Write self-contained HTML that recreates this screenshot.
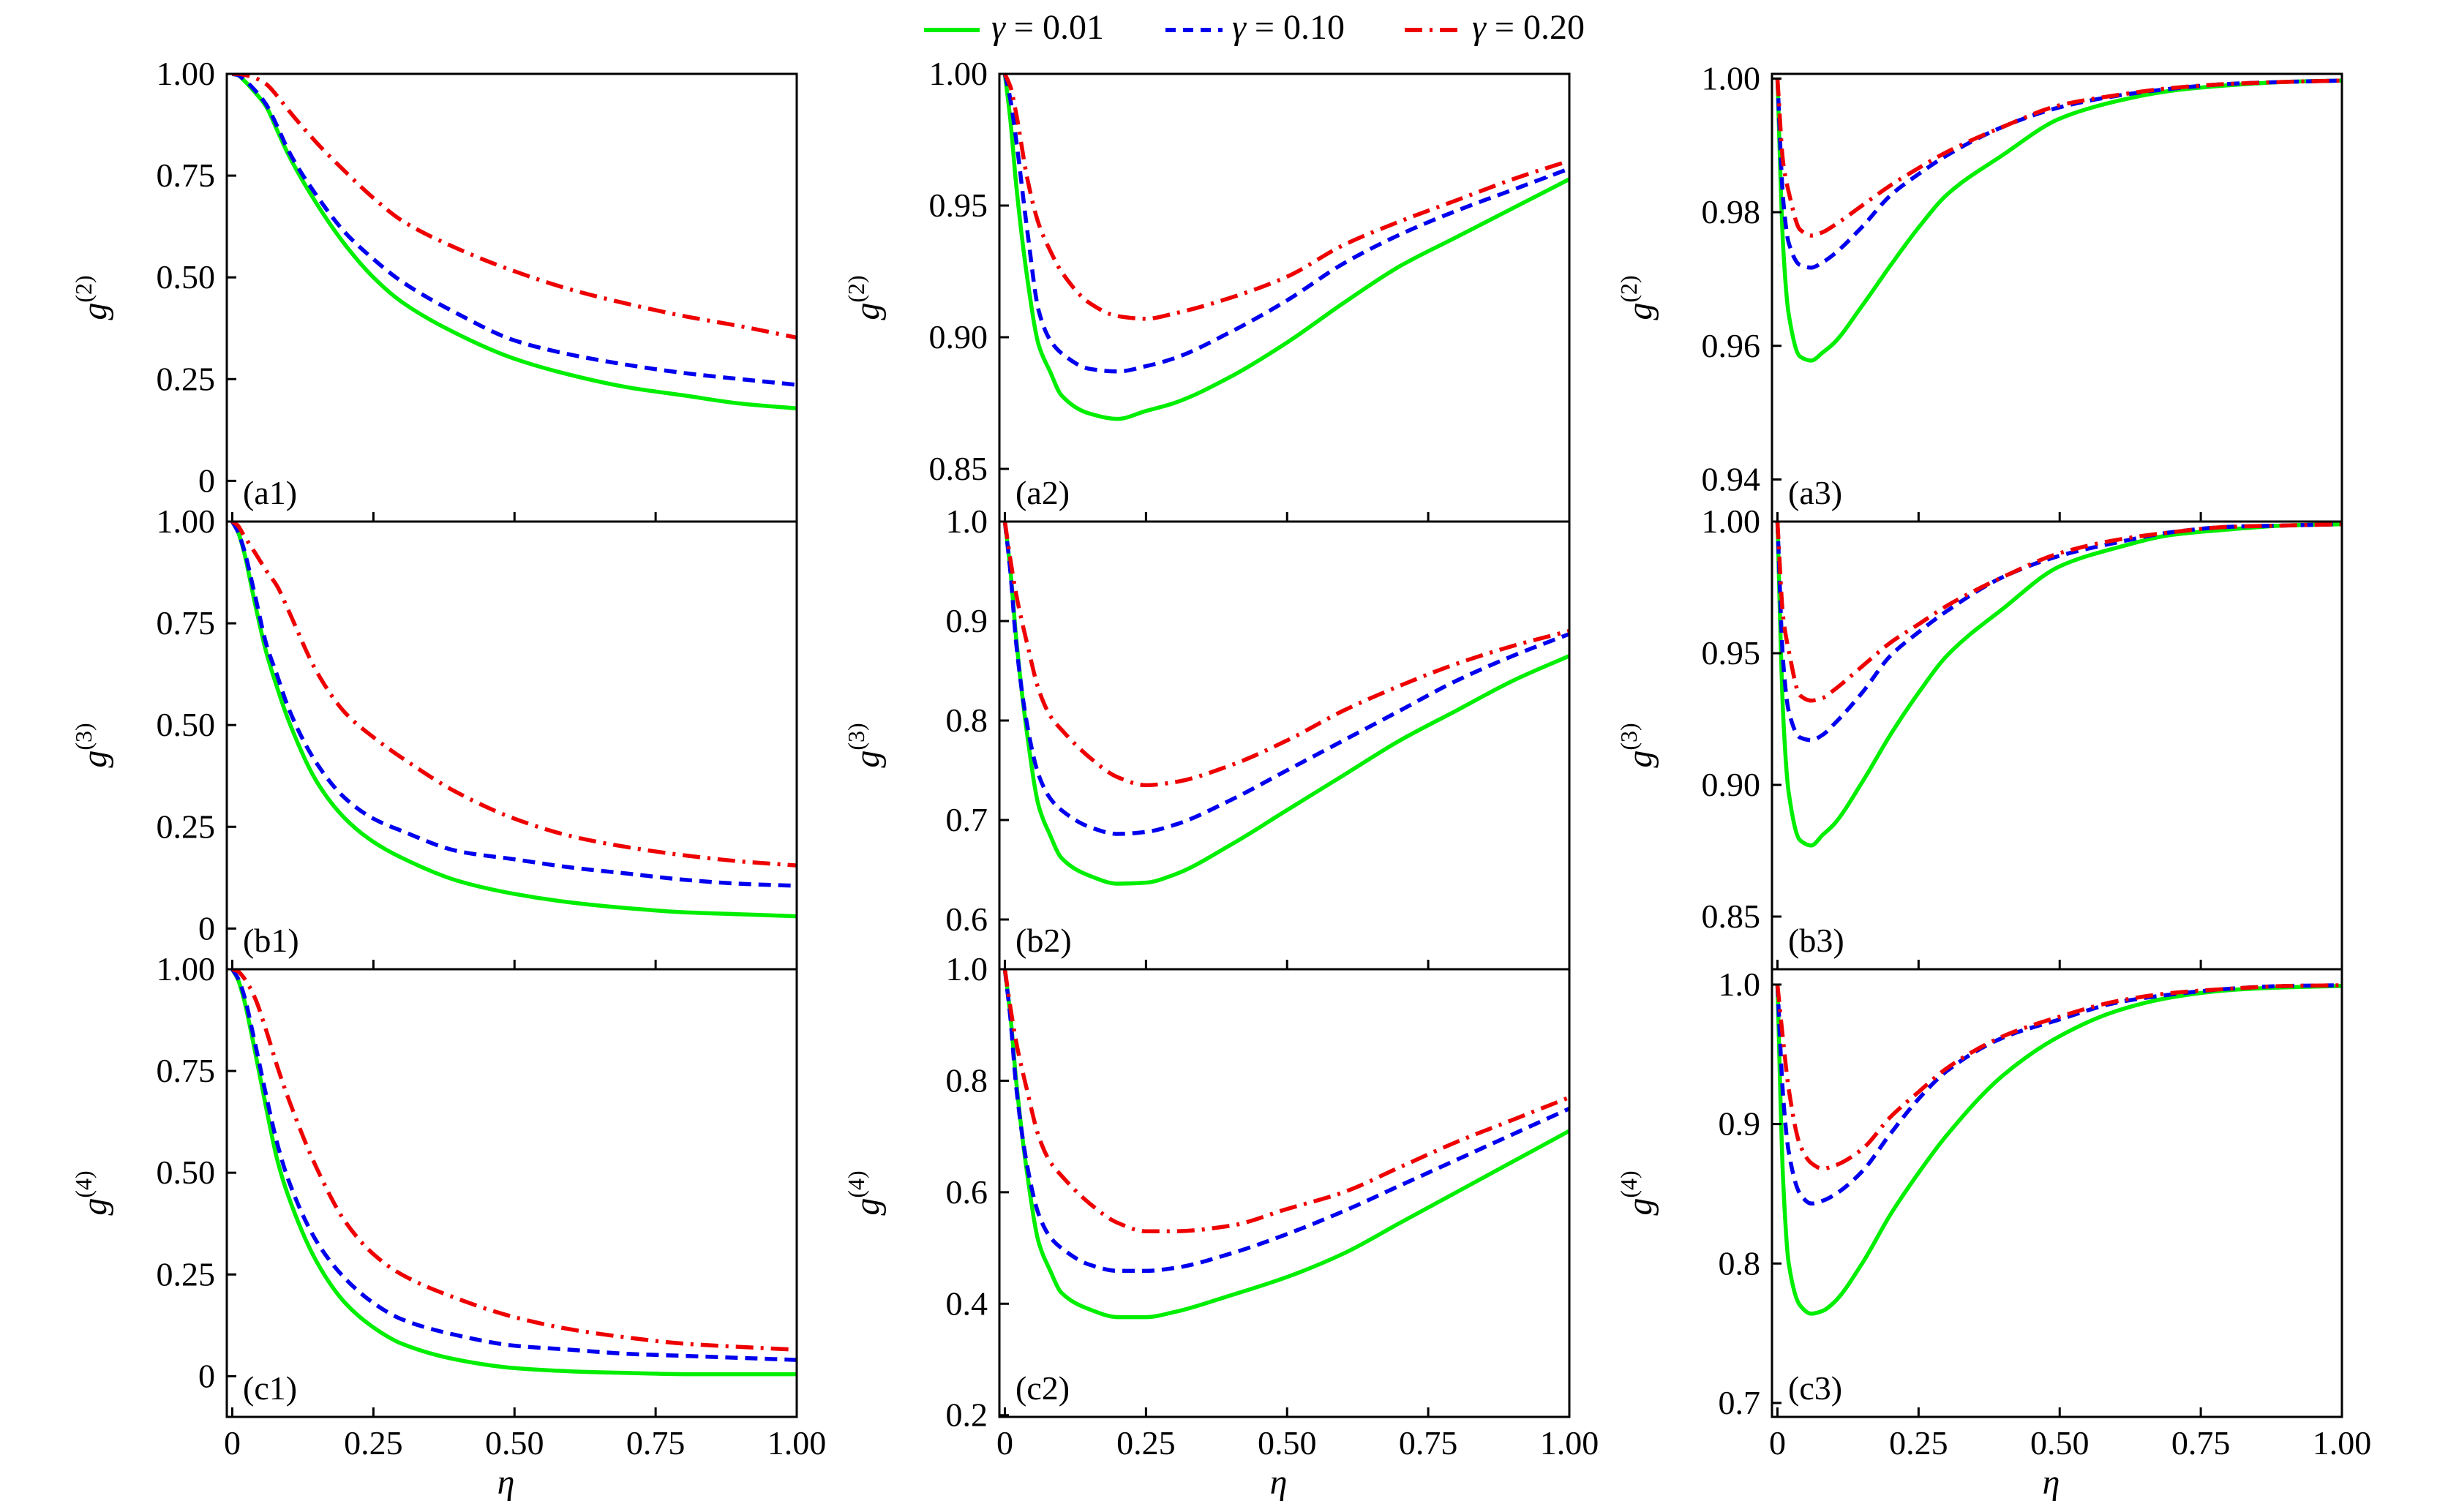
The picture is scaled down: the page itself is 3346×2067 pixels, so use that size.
<!DOCTYPE html>
<html><head><meta charset="utf-8">
<style>
html,body{margin:0;padding:0;background:#fff;}
svg{display:block;}
text{font-family:"Liberation Serif","DejaVu Serif",serif;fill:#000;}
</style></head>
<body>
<svg id="chart" xmlns="http://www.w3.org/2000/svg" width="3346" height="2067" viewBox="0 0 3346 2067" font-family="'Liberation Serif', 'DejaVu Serif', serif">
<rect x="0" y="0" width="3346" height="2067" fill="#fff"/>
<g id="legend">
  <g>
    <line x1="1263" y1="41" x2="1339" y2="41" stroke="#00ee00" stroke-width="6"/>
    <text x="1355" y="53" font-size="48"><tspan font-style="italic">γ</tspan> = 0.01</text>
  </g>
  <g>
    <line x1="1593" y1="41" x2="1671" y2="41" stroke="#0000ee" stroke-width="6" stroke-dasharray="14 10"/>
    <text x="1684" y="53" font-size="48"><tspan font-style="italic">γ</tspan> = 0.10</text>
  </g>
  <g>
    <line x1="1920" y1="41" x2="1999" y2="41" stroke="#ee0000" stroke-width="6" stroke-dasharray="24 10 4 10"/>
    <text x="2012" y="53" font-size="48"><tspan font-style="italic">γ</tspan> = 0.20</text>
  </g>
</g>
<g id="panels"></g>
</svg>
<script>
const etas = [0,0.01,0.02,0.04,0.06,0.08,0.1,0.15,0.2,0.25,0.3,0.4,0.5,0.6,0.7,0.8,0.9,1.0];
const xTicks = [0,0.25,0.5,0.75,1.0];
const xTickLabels = ["0","0.25","0.50","0.75","1.00"];
const gammaLabels = ["0.01","0.10","0.20"];

const a1Green = [1,0.997,0.985,0.955,0.92,0.86,0.80,0.68,0.58,0.50,0.44,0.36,0.30,0.26,0.23,0.21,0.19,0.178];
const a1Blue  = [1,0.997,0.987,0.96,0.925,0.87,0.81,0.70,0.61,0.545,0.49,0.41,0.345,0.31,0.285,0.265,0.25,0.236];
const a1Red   = [1,1,0.998,0.99,0.975,0.945,0.91,0.83,0.76,0.695,0.64,0.57,0.515,0.47,0.435,0.405,0.38,0.352];
const b1Green = [1,0.975,0.93,0.80,0.68,0.59,0.51,0.36,0.27,0.213,0.174,0.117,0.085,0.064,0.05,0.04,0.035,0.03];
const b1Blue  = [1,0.975,0.935,0.82,0.70,0.62,0.54,0.405,0.32,0.27,0.24,0.19,0.17,0.15,0.135,0.12,0.11,0.105];
const b1Red   = [1,0.99,0.967,0.924,0.88,0.84,0.78,0.63,0.53,0.47,0.42,0.333,0.27,0.227,0.2,0.18,0.165,0.155];
const c1Green = [1,0.975,0.93,0.80,0.66,0.53,0.44,0.28,0.18,0.12,0.08,0.04,0.02,0.012,0.008,0.005,0.005,0.005];
const c1Blue  = [1,0.978,0.94,0.82,0.69,0.57,0.48,0.33,0.24,0.18,0.14,0.10,0.075,0.065,0.055,0.05,0.045,0.04];
const c1Red   = [1,0.995,0.98,0.93,0.85,0.76,0.68,0.51,0.38,0.30,0.25,0.19,0.145,0.115,0.095,0.08,0.072,0.065];

const a2Green = [1,0.982,0.958,0.922,0.897,0.887,0.878,0.871,0.869,0.872,0.875,0.885,0.898,0.913,0.927,0.938,0.949,0.960];
const a2Blue  = [1,0.99,0.975,0.94,0.91,0.899,0.894,0.888,0.887,0.889,0.892,0.902,0.914,0.928,0.939,0.948,0.956,0.964];
const a2Red   = [1,0.995,0.985,0.96,0.943,0.933,0.925,0.913,0.908,0.907,0.909,0.915,0.923,0.935,0.944,0.952,0.960,0.967];
const b2Green = [1,0.95,0.883,0.784,0.714,0.685,0.662,0.644,0.636,0.637,0.645,0.675,0.71,0.745,0.78,0.81,0.84,0.865];
const b2Blue  = [1,0.948,0.878,0.794,0.745,0.722,0.71,0.693,0.686,0.688,0.695,0.72,0.75,0.78,0.81,0.84,0.865,0.887];
const b2Red   = [1,0.961,0.927,0.876,0.831,0.805,0.791,0.763,0.743,0.735,0.738,0.755,0.78,0.81,0.835,0.857,0.875,0.89];
const c2Green = [1,0.915,0.80,0.63,0.51,0.46,0.42,0.39,0.376,0.376,0.385,0.415,0.448,0.49,0.545,0.60,0.655,0.71];
const c2Blue  = [1,0.91,0.79,0.645,0.56,0.52,0.50,0.47,0.459,0.459,0.464,0.49,0.525,0.566,0.612,0.658,0.704,0.75];
const c2Red   = [1,0.93,0.87,0.78,0.70,0.655,0.63,0.58,0.545,0.53,0.53,0.54,0.57,0.60,0.645,0.69,0.73,0.77];

const a3Green = [1,0.975,0.9647,0.9584,0.9578,0.959,0.9604,0.966,0.972,0.9777,0.9826,0.9886,0.994,0.9966,0.9982,0.999,0.9995,0.9997];
const a3Blue  = [1,0.982,0.9754,0.9721,0.9717,0.9725,0.9737,0.9778,0.9825,0.9857,0.9885,0.9928,0.9957,0.9974,0.9985,0.9992,0.9995,0.9997];
const a3Red   = [1,0.9875,0.983,0.9774,0.9765,0.977,0.978,0.981,0.984,0.9866,0.989,0.9928,0.996,0.9975,0.9986,0.9992,0.9995,0.9997];
const b3Green = [1,0.927,0.897,0.879,0.877,0.881,0.885,0.901,0.919,0.935,0.949,0.967,0.983,0.990,0.995,0.997,0.9985,0.999];
const b3Blue  = [1,0.947,0.928,0.918,0.917,0.919,0.923,0.935,0.949,0.958,0.966,0.979,0.987,0.992,0.996,0.998,0.9985,0.999];
const b3Red   = [1,0.964,0.951,0.934,0.932,0.933,0.936,0.945,0.954,0.961,0.968,0.979,0.988,0.993,0.996,0.998,0.9985,0.999];
const c3Green = [1,0.86,0.80,0.77,0.764,0.766,0.772,0.80,0.835,0.865,0.892,0.935,0.963,0.981,0.991,0.996,0.998,0.999];
const c3Blue  = [1,0.92,0.88,0.85,0.843,0.845,0.849,0.866,0.893,0.918,0.938,0.962,0.975,0.987,0.993,0.997,0.999,0.9995];
const c3Red   = [1,0.96,0.925,0.885,0.872,0.868,0.870,0.882,0.905,0.923,0.940,0.963,0.977,0.988,0.994,0.997,0.999,0.9995];

const col1Ticks = [0,0.25,0.5,0.75,1.0];
const col1TickLabels = ["0","0.25","0.50","0.75","1.00"];
const a2Ticks = [0.85,0.9,0.95,1.0];
const a2TickLabels = ["0.85","0.90","0.95","1.00"];
const b2Ticks = [0.6,0.7,0.8,0.9,1.0];
const b2TickLabels = ["0.6","0.7","0.8","0.9","1.0"];
const c2Ticks = [0.2,0.4,0.6,0.8,1.0];
const c2TickLabels = ["0.2","0.4","0.6","0.8","1.0"];
const a3Ticks = [0.94,0.96,0.98,1.0];
const a3TickLabels = ["0.94","0.96","0.98","1.00"];
const b3Ticks = [0.85,0.9,0.95,1.0];
const b3TickLabels = ["0.85","0.90","0.95","1.00"];
const c3Ticks = [0.7,0.8,0.9,1.0];
const c3TickLabels = ["0.7","0.8","0.9","1.0"];

const NS = "http://www.w3.org/2000/svg";
const colLeft = [310, 1366, 2422];
const W = 779;
const rowTop = [101, 713, 1325];
const H = 612;
const xDomain = [-0.0097, 1.0];

const panels = [
  {id:"a1",c:0,r:0,d:[-0.1,1.0],t:col1Ticks,tl:col1TickLabels,s:[a1Green,a1Blue,a1Red],ord:2},
  {id:"b1",c:0,r:1,d:[-0.1,1.0],t:col1Ticks,tl:col1TickLabels,s:[b1Green,b1Blue,b1Red],ord:3},
  {id:"c1",c:0,r:2,d:[-0.1,1.0],t:col1Ticks,tl:col1TickLabels,s:[c1Green,c1Blue,c1Red],ord:4},
  {id:"a2",c:1,r:0,d:[0.83,1.0],t:a2Ticks,tl:a2TickLabels,s:[a2Green,a2Blue,a2Red],ord:2},
  {id:"b2",c:1,r:1,d:[0.55,1.0],t:b2Ticks,tl:b2TickLabels,s:[b2Green,b2Blue,b2Red],ord:3},
  {id:"c2",c:1,r:2,d:[0.197,1.0],t:c2Ticks,tl:c2TickLabels,s:[c2Green,c2Blue,c2Red],ord:4},
  {id:"a3",c:2,r:0,d:[0.9337,1.0007],t:a3Ticks,tl:a3TickLabels,s:[a3Green,a3Blue,a3Red],ord:2},
  {id:"b3",c:2,r:1,d:[0.83,1.0],t:b3Ticks,tl:b3TickLabels,s:[b3Green,b3Blue,b3Red],ord:3},
  {id:"c3",c:2,r:2,d:[0.69,1.011],t:c3Ticks,tl:c3TickLabels,s:[c3Green,c3Blue,c3Red],ord:4}
];
const colors = ["#00ee00","#0000ee","#ee0000"];
const dashes = [null,"17 10","24 10 4 10"];
const seriesNames = ["green","blue","red"];

function mk(tag, attrs, parent){
  const e = document.createElementNS(NS, tag);
  for (const k in attrs) e.setAttribute(k, attrs[k]);
  parent.appendChild(e);
  return e;
}

function monotonePath(px, py){
  const n = px.length;
  const dx = [], m = [], t = new Array(n);
  for (let i=0;i<n-1;i++){ dx.push(px[i+1]-px[i]); m.push((py[i+1]-py[i])/(px[i+1]-px[i])); }
  t[0]=m[0]; t[n-1]=m[n-2];
  for (let i=1;i<n-1;i++){
    if (m[i-1]*m[i] <= 0) t[i]=0;
    else { const w1=2*dx[i]+dx[i-1], w2=dx[i]+2*dx[i-1]; t[i]=(w1+w2)/(w1/m[i-1]+w2/m[i]); }
  }
  let d = "M"+px[0].toFixed(2)+","+py[0].toFixed(2);
  for (let i=0;i<n-1;i++){
    const h = dx[i];
    d += " C"+(px[i]+h/3).toFixed(2)+","+(py[i]+t[i]*h/3).toFixed(2)+" "+(px[i+1]-h/3).toFixed(2)+","+(py[i+1]-t[i+1]*h/3).toFixed(2)+" "+px[i+1].toFixed(2)+","+py[i+1].toFixed(2);
  }
  return d;
}

const root = document.getElementById("panels");
panels.forEach(p => {
  const L = colLeft[p.c], T = rowTop[p.r];
  const xs = v => L + (v - xDomain[0]) / (xDomain[1]-xDomain[0]) * W;
  const ys = v => T + H - (v - p.d[0]) / (p.d[1]-p.d[0]) * H;
  const g = mk("g", {}, root);
  
  
  const clipId = "clip-" + p.id;
  const cp = mk("clipPath", {id: clipId}, g);
  mk("rect", {x:L, y:T, width:W, height:H}, cp);

  const sg = mk("g", {"clip-path":"url(#"+clipId+")"}, g);
  p.s.forEach((vals, si) => {
    const px = etas.map(xs), py = vals.map(ys);
    const path = mk("path", {d: monotonePath(px, py), fill:"none", stroke: colors[si], "stroke-width": 5.5, "stroke-linejoin":"round"}, sg);
    if (dashes[si]) path.setAttribute("stroke-dasharray", dashes[si]);
    
    
  });

  p.t.forEach((v, i) => {
    const y = ys(v);
    const tk = mk("line", {x1:L, y1:y, x2:L+13, y2:y, stroke:"#000", "stroke-width":3}, g);
    
    
    const lb = mk("text", {x:L-16, y:y+15, "font-size":46, "text-anchor":"end"}, g);
    lb.textContent = p.tl[i];
    
    
  });
  xTicks.forEach((v, i) => {
    const x = xs(v);
    const tk = mk("line", {x1:x, y1:T+H, x2:x, y2:T+H-13, stroke:"#000", "stroke-width":3}, g);
    
    
    if (p.r === 2) {
      const lb = mk("text", {x:x, y:1988, "font-size":46, "text-anchor":"middle"}, g);
      lb.textContent = xTickLabels[i];
      
      
    }
  });
  const fr = mk("rect", {x:L, y:T, width:W, height:H, fill:"none", stroke:"#000", "stroke-width":3}, g);
  
  
  const pl = mk("text", {x:L+22, y:T+H-24, "font-size":46}, g);
  pl.textContent = "(" + p.id + ")";
  
  
  const cx = L - 165, cy = T + H/2;
  const yt = mk("text", {x:cx, y:cy, "font-size":48, transform:"rotate(-90 "+cx+" "+cy+")", "text-anchor":"middle"}, g);
  const t1 = mk("tspan", {"font-style":"italic"}, yt); t1.textContent = "g";
  const t2 = mk("tspan", {dy:-20, "font-size":32}, yt); t2.textContent = "(" + p.ord + ")";
  
  
  if (p.r === 2) {
    const xt = mk("text", {x:L + W/2 - 8, y:2042, "font-size":48, "font-style":"italic", "text-anchor":"middle"}, g);
    xt.textContent = "η";
    
    
  }
});
</script>
</body></html>
